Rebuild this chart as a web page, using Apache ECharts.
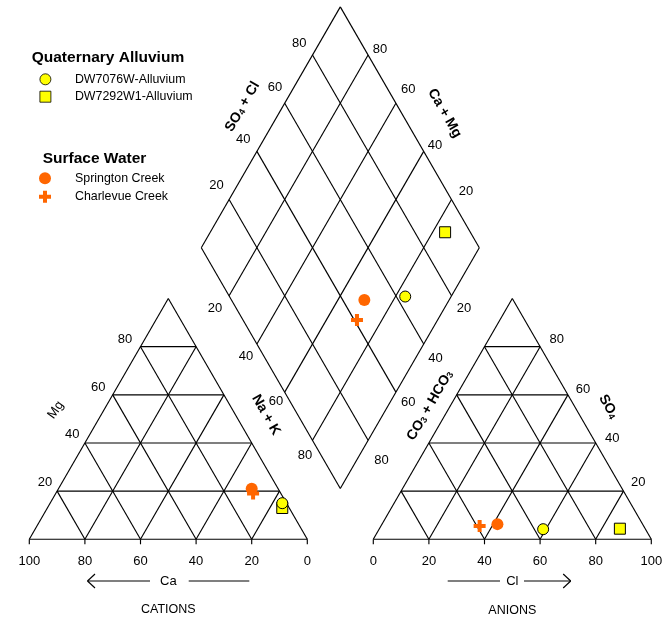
<!DOCTYPE html>
<html><head><meta charset="utf-8">
<script src="https://cdn.jsdelivr.net/npm/echarts@6/dist/echarts.min.js"></script>
<style>html,body{margin:0;padding:0;background:#fff}#c{width:663px;height:624px}</style>
</head><body><div id="c"></div>
<script>
// ---- data (percent of meq) ----
const sampleNames = ['DW7076W-Alluvium', 'DW7292W1-Alluvium', 'Springton Creek', 'Charlevue Creek'];
const groupNames = ['Quaternary Alluvium', 'Surface Water'];
const ca  = [1.5, 2.5, 9.5, 10];
const mg  = [15, 13, 21, 19];
const cl  = [59, 86.5, 41.5, 35.5];
const so4 = [4.2, 4.4, 6.3, 5.5];
const tickValues = [0, 20, 40, 60, 80, 100];
const gridSteps = [20, 40, 60, 80];

// ---- layout ----
const FONT = 'Liberation Sans, Arial, Helvetica, sans-serif';
const K = Math.sqrt(3) / 2;
const ANION_X0 = 123.74;
const DIA_BX = (100 + ANION_X0) / 2, DIA_BY = 18.3;
function tri(x0, a, b) { return [x0 + a + 0.5 * b, K * b]; }
function dia(caMg, so4Cl) { return [DIA_BX + 0.5 * (so4Cl - caMg), DIA_BY + K * (so4Cl + caMg)]; }

// segments
const segs = [];
function seg(p, q, o) { o = o || [0, 0, 0, 0]; segs.push([p[0], p[1], q[0], q[1], o[0], o[1], o[2], o[3]]); }
[0, ANION_X0].forEach(x0 => {
  seg(tri(x0, 0, 0), tri(x0, 100, 0)); seg(tri(x0, 100, 0), tri(x0, 0, 100)); seg(tri(x0, 0, 100), tri(x0, 0, 0));
  gridSteps.forEach(k => {
    seg(tri(x0, 0, k), tri(x0, 100 - k, k));
    seg(tri(x0, k, 0), tri(x0, k, 100 - k));
    seg(tri(x0, 100 - k, 0), tri(x0, 0, 100 - k));
  });
  tickValues.forEach(t => seg(tri(x0, t, 0), tri(x0, t, 0), [0, 0, 0, 5]));
});
tickValues.forEach(k => { seg(dia(k, 0), dia(k, 100)); seg(dia(0, k), dia(100, k)); });
const cc = tri(0, 50, 0), ac = tri(ANION_X0, 50, 0);
seg(cc, cc, [-80.8, 41.7, -18.3, 41.7]); seg(cc, cc, [20.4, 41.7, 81, 41.7]);
seg(cc, cc, [-80.8, 41.7, -73.3, 34.7]); seg(cc, cc, [-80.8, 41.7, -73.3, 48.7]);
seg(ac, ac, [-64.6, 41.7, -12.3, 41.7]); seg(ac, ac, [11.7, 41.7, 58.4, 41.7]);
seg(ac, ac, [58.4, 41.7, 50.9, 34.7]); seg(ac, ac, [58.4, 41.7, 50.9, 48.7]);

// text labels
const labels = [];
function lab(p, dx, dy, text, opt) { labels.push(Object.assign({ p, dx, dy, text, size: 13, bold: false, rot: 0 }, opt || {})); }
tickValues.forEach(t => { lab(tri(0, 100 - t, 0), 0, 22.4, String(t)); lab(tri(ANION_X0, t, 0), 0, 22.4, String(t)); });
const offMg = [[-12, -9], [-12.6, -9], [-14.4, -7.6], [-15.5, -7.7]];
const offSO4 = [[14.8, -8.9], [16.6, -4.7], [15.1, -5.9], [16.6, -7.4]];
const offNaK = [[-14, 12.7], [-11, 12.6], [-8.8, 9.3], [-7.6, 15.6]];
const offCO3 = [[12.4, 12.7], [11.9, 14.6], [12.3, 10.3], [13.5, 20.6]];
const offSCl = [[-12.5, -13.7], [-13.7, -12.3], [-9.8, -15.7], [-13.3, -11.6]];
const offCM = [[14.4, -7.7], [11.2, -6.3], [12.3, -14], [11.8, -5.9]];
gridSteps.forEach((k, i) => {
  lab(tri(0, 0, k), offMg[i][0], offMg[i][1], String(k));
  lab(tri(ANION_X0, 100 - k, k), offSO4[i][0], offSO4[i][1], String(k));
  lab(dia(100 - k, 0), offNaK[i][0], offNaK[i][1], String(k));
  lab(dia(0, 100 - k), offCO3[i][0], offCO3[i][1], String(k));
  lab(dia(100, k), offSCl[i][0], offSCl[i][1], String(k));
  lab(dia(k, 100), offCM[i][0], offCM[i][1], String(k));
});
const B = { fontSize: 14, fontWeight: 'bold', fontFamily: FONT, lineHeight: 14, fill: '#000' };
const S = { fontSize: 9, fontWeight: 'bold', fontFamily: FONT, lineHeight: 3, verticalAlign: 'bottom', fill: '#000' };
const richB = { b: B, s: S };
lab(cc, 0, 41.7, 'Ca');
lab(ac, 0, 41.7, 'Cl');
lab(cc, 0, 70.7, 'CATIONS', { size: 12.5 });
lab(ac, 0, 71.4, 'ANIONS', { size: 12.5 });
lab(tri(0, 0, 50), -43, -8.9, 'Mg', { rot: 55 });
lab(tri(ANION_X0, 50, 50), 26.5, -12.2, '{b|SO}{s|4}', { rot: -60, rich: richB });
lab(dia(50, 0), -4.8, 46.9, 'Na + K', { rot: -60, size: 14, bold: true });
lab(dia(0, 50), 20.2, 37.4, '{b|CO}{s|3}{b| + HCO}{s|3}', { rot: 60, rich: richB });
lab(dia(100, 50), -28.3, -20.6, '{b|SO}{s|4}{b| + Cl}', { rot: 60, rich: richB });
lab(dia(50, 100), 34.9, -14, 'Ca + Mg', { rot: -60, size: 14, bold: true });

// sample points
const PLUS = 'path://M4,0H8V4H12V8H8V12H4V8H0V4H4Z';
const markers = [
  { symbol: 'circle', size: 11, color: '#FFFF00', border: '#000', z: 6 },
  { symbol: 'rect', size: 11, color: '#FFFF00', border: '#000', z: 5 },
  { symbol: 'circle', size: 12, color: '#FF6600', border: null, z: 8 },
  { symbol: PLUS, size: 12, color: '#FF6600', border: null, z: 7 }
];
const pointSeries = sampleNames.map((name, i) => {
  const nak = 100 - ca[i] - mg[i];
  const pts = [tri(0, nak, mg[i]), tri(ANION_X0, cl[i], so4[i]), dia(ca[i] + mg[i], cl[i] + so4[i])];
  const m = markers[i];
  return {
    name, type: 'scatter', data: pts, symbol: m.symbol, symbolSize: m.size, z: m.z, silent: true,
    itemStyle: { color: m.color, opacity: 1, borderColor: m.border || m.color, borderWidth: m.border ? 1 : 0 }
  };
});

const chart = echarts.init(document.getElementById('c'), null, { renderer: 'canvas' });
chart.setOption({
  animation: false,
  backgroundColor: '#fff',
  grid: { left: 0, right: 0, top: 0, bottom: 0 },
  xAxis: { type: 'value', min: -10.54, max: 227.95, show: false },
  yAxis: { type: 'value', min: -30.47, max: 193.99, show: false },
  title: [
    { text: groupNames[0], left: 31.7, top: 49.5, padding: 0, textStyle: { fontSize: 15.5, fontWeight: 'bold', fontFamily: FONT, color: '#000' } },
    { text: groupNames[1], left: 42.7, top: 150.5, padding: 0, textStyle: { fontSize: 15.5, fontWeight: 'bold', fontFamily: FONT, color: '#000' } }
  ],
  legend: [
    { data: sampleNames.slice(0, 2), left: 39.5, top: 73.3, orient: 'vertical', itemWidth: 11, itemHeight: 11, itemGap: 5.4, padding: 0, selectedMode: false,
      itemStyle: { borderWidth: 0.8, borderColor: '#000' },
      textStyle: { fontSize: 12.4, fontFamily: FONT, color: '#000', padding: [0, 0, 0, 19], lineHeight: 12 } },
    { data: sampleNames.slice(2, 4), left: 39, top: 172.3, orient: 'vertical', itemWidth: 12, itemHeight: 12, itemGap: 6.4, padding: 0, selectedMode: false,
      itemStyle: { borderWidth: 0 },
      textStyle: { fontSize: 12.4, fontFamily: FONT, color: '#000', padding: [0, 0, 0, 19], lineHeight: 12 } }
  ],
  series: [
    {
      type: 'custom', silent: true, z: 1, data: segs, encode: { x: 0, y: 1 },
      renderItem: (params, api) => {
        const p1 = api.coord([api.value(0), api.value(1)]);
        const p2 = api.coord([api.value(2), api.value(3)]);
        return { type: 'line', shape: { x1: p1[0] + api.value(4), y1: p1[1] + api.value(5), x2: p2[0] + api.value(6), y2: p2[1] + api.value(7) },
          style: { stroke: '#000', lineWidth: 1.15 } };
      }
    },
    {
      type: 'custom', silent: true, z: 2, data: labels.map(l => l.p),
      renderItem: (params, api) => {
        const L = labels[params.dataIndex];
        const c = api.coord(L.p);
        const style = { text: L.text, fill: '#000', fontSize: L.size, fontWeight: L.bold ? 'bold' : 'normal', fontFamily: FONT,
          align: 'center', verticalAlign: 'middle', textAlign: 'center', textVerticalAlign: 'middle' };
        if (L.rich) style.rich = L.rich;
        return { type: 'text', x: c[0] + L.dx, y: c[1] + L.dy, rotation: L.rot * Math.PI / 180, style };
      }
    }
  ].concat(pointSeries)
});
</script>
</body></html>
